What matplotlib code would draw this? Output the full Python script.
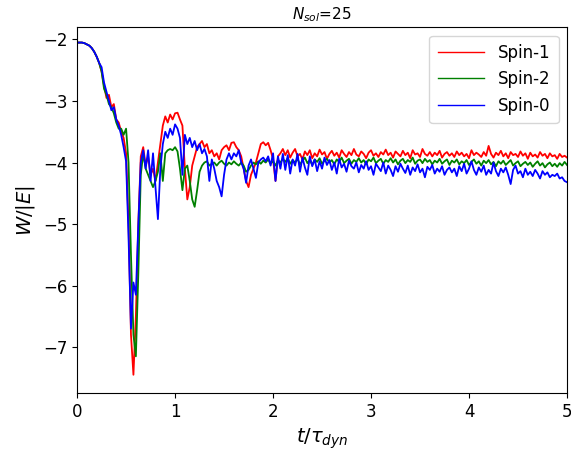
import matplotlib
matplotlib.use("Agg")
import matplotlib.pyplot as plt
import numpy as np

# time grid, step 0.025 tau_dyn (201 samples)
t = np.linspace(0.0, 5.0, 201)

# collapse phase, identical for all three runs (t = 0 .. 0.25)
early = [-2.05, -2.05, -2.05, -2.06, -2.08, -2.10, -2.14, -2.20, -2.28, -2.38, -2.52]

spin1 = early[:-1] + [
    -2.52, -2.75, -2.95, -2.90, -3.10, -3.05, -3.30, -3.35, -3.50, -3.60, -3.85,
    -5.00, -6.80, -7.45, -6.50, -5.00, -3.90, -3.75, -4.05, -3.90, -4.20,
    -4.10, -4.30, -4.00, -3.70, -3.40, -3.25, -3.35, -3.22, -3.30, -3.20,
    -3.19, -3.30, -3.40, -4.10, -4.60, -4.40, -4.05, -3.90, -3.75, -3.70,
    -3.65, -3.75, -3.70, -3.85, -3.80, -3.90, -3.85, -3.95, -3.80, -3.75,
    -3.72, -3.80, -3.68, -3.67, -3.75, -3.80, -3.90, -4.10, -4.30, -4.40,
    -4.20, -4.10, -4.00, -3.85, -3.70, -3.67, -3.72, -3.68, -3.80, -3.95,
    -4.30, -3.90, -3.85, -3.78,
    -3.88, -3.80, -3.92, -3.84, -3.78, -3.90, -3.86, -3.95, -3.82, -3.88,
    -3.80, -3.93, -3.85, -3.90, -3.79, -3.87, -3.83, -3.94, -3.86, -3.81,
    -3.89, -3.84, -3.92, -3.80, -3.86, -3.91, -3.83, -3.88, -3.78, -3.87,
    -3.90, -3.82, -3.86, -3.93, -3.84, -3.80, -3.89, -3.85, -3.91, -3.83,
    -3.87, -3.79, -3.88, -3.84, -3.92, -3.82, -3.86, -3.90, -3.81, -3.88,
    -3.84, -3.93, -3.80, -3.87, -3.85, -3.91, -3.78, -3.86, -3.89, -3.83,
    -3.90, -3.84, -3.88, -3.81, -3.92, -3.86, -3.83, -3.89, -3.85, -3.91,
    -3.82, -3.88, -3.84, -3.90, -3.86, -3.93, -3.80, -3.88, -3.84, -3.87,
    -3.91, -3.83, -3.89, -3.73, -3.86, -3.92, -3.84, -3.88, -3.81, -3.90,
    -3.85, -3.93, -3.83, -3.88, -3.86, -3.91, -3.82, -3.89, -3.85, -3.94,
    -3.84, -3.90, -3.87, -3.92, -3.83, -3.89, -3.86, -3.93, -3.85, -3.90,
    -3.88, -3.94, -3.86, -3.91, -3.89, -3.92,
]

spin2 = early[:-1] + [
    -2.52, -2.80, -2.90, -3.05, -3.10, -3.20, -3.35, -3.45, -3.45, -3.55, -3.45,
    -4.00, -5.50, -6.80, -7.15, -5.80, -4.20, -3.85, -4.10, -4.20, -4.30,
    -4.40, -4.30, -4.15, -3.85, -4.30, -3.85, -3.80, -3.78, -3.80, -3.75,
    -3.82, -4.10, -4.45, -4.10, -4.05, -4.30, -4.60, -4.72, -4.45, -4.15,
    -4.05, -4.00, -3.98, -4.05, -4.02, -4.00, -4.05, -4.00, -3.97, -4.02,
    -4.05, -4.00, -4.03, -3.98, -4.02, -4.05, -4.00, -4.05, -4.15, -4.12,
    -4.05, -4.00, -4.03, -3.98, -4.02, -3.97, -4.00, -3.95, -4.02, -3.98,
    -4.05, -3.96, -4.00, -3.94,
    -3.99, -3.93, -4.02, -3.96, -4.00, -3.94, -4.03, -3.97, -3.92, -4.01,
    -3.96, -4.04, -3.95, -3.99, -3.93, -4.02, -3.97, -3.94, -4.00, -3.96,
    -4.03, -3.95, -3.99, -3.92, -4.01, -3.97, -3.94, -4.02, -3.96, -3.99,
    -3.93, -4.00, -3.96, -4.03, -3.95, -3.98, -3.92, -4.01, -3.97, -3.94,
    -4.02, -3.96, -3.99, -3.93, -4.00, -3.95, -4.03, -3.97, -3.94, -4.01,
    -3.96, -3.99, -3.92, -4.02, -3.97, -3.95, -4.01, -3.94, -3.99, -3.96,
    -4.03, -3.97, -4.00, -3.94, -4.02, -3.98, -3.95, -4.04, -3.97, -4.00,
    -3.95, -4.03, -3.98, -4.01, -3.96, -4.04, -3.99, -3.95, -4.02, -3.98,
    -4.05, -3.97, -4.01, -3.96, -4.03, -3.99, -4.06, -3.98, -4.02, -3.97,
    -4.04, -4.00, -3.96, -4.05, -4.01, -3.98, -4.06, -4.02, -3.99, -4.04,
    -4.00, -4.07, -4.02, -3.98, -4.05, -4.01, -4.08, -4.03, -4.00, -4.06,
    -4.02, -4.07, -4.01, -4.05, -3.99, -4.04,
]

spin0 = early[:-1] + [
    -2.45, -2.70, -2.85, -3.00, -3.15, -3.10, -3.30, -3.40, -3.55, -3.75, -3.98,
    -5.20, -6.70, -5.95, -6.15, -5.00, -4.00, -3.80, -4.10, -3.80, -4.30,
    -3.85, -4.40, -4.92, -4.10, -3.70, -3.50, -3.60, -3.45, -3.55, -3.38,
    -3.45, -3.60, -4.20, -3.55, -3.70, -3.60, -3.75, -3.65, -3.80, -3.70,
    -3.85, -3.78, -3.90, -4.30, -3.95, -4.10, -4.30, -4.40, -4.55, -4.20,
    -3.95, -3.85, -3.95, -3.85, -3.90, -3.80, -4.00, -4.10, -4.33, -4.05,
    -3.95, -4.10, -4.25, -4.00, -3.95, -3.92, -3.98, -3.90, -4.05, -3.85,
    -4.30, -3.90, -4.10, -3.86,
    -4.12, -3.88, -4.18, -3.95, -4.05, -3.86, -4.15, -3.92, -4.08, -4.20,
    -3.90, -4.06, -3.95, -4.14, -3.98, -4.10, -3.92, -4.04, -3.96, -4.12,
    -4.00, -4.18, -3.94, -4.08, -4.02, -4.15, -3.97, -4.06, -4.10, -4.00,
    -4.16, -4.04, -4.10, -3.98, -4.12, -4.06, -4.20, -4.02, -4.08, -4.14,
    -4.00, -4.18, -4.05, -4.12, -4.22, -4.06, -4.15, -4.02, -4.10, -4.17,
    -4.05, -4.20, -4.08, -4.14, -4.03, -4.16, -4.10, -4.24, -4.07, -4.12,
    -4.04, -4.18, -4.10, -4.15, -4.06, -4.20, -4.12, -4.08, -4.16, -4.10,
    -4.22, -4.06, -4.14, -4.02, -4.18, -4.10, -3.98, -4.12, -4.20, -4.08,
    -4.15, -4.05, -4.20, -4.12, -4.18, -4.00, -4.14, -4.22, -4.10, -4.16,
    -4.08, -4.20, -4.35, -4.12, -4.05, -4.18, -4.14, -4.24, -4.10, -4.20,
    -4.15, -4.22, -4.12, -4.18, -4.26, -4.14, -4.20, -4.16, -4.24, -4.20,
    -4.22, -4.18, -4.26, -4.24, -4.30, -4.32,
]

labels = ["Spin-1", "Spin-2", "Spin-0"]
colors = ["r", "g", "b"]


def main():
    fig = plt.figure(figsize=(5.71, 4.53), dpi=100)
    ax = fig.add_axes([0.135, 0.132, 0.858, 0.808])

    for y, col, lab in zip([spin1, spin2, spin0], colors, labels):
        ax.plot(t, y, color=col, lw=1.3, label=lab)

    ax.set_xlim(0, 5)
    ax.set_ylim(-7.75, -1.8)
    ax.set_yticks([-7, -6, -5, -4, -3, -2])
    ax.tick_params(labelsize=12)
    ax.set_xlabel(r"$t/\tau_{dyn}$", fontsize=14)
    ax.set_ylabel(r"$W/|E|$", fontsize=14)
    ax.set_title(r"$N_{sol}$=25", fontsize=11)
    # legend handles are a bit longer than the default
    leg = ax.legend(fontsize=12, loc="upper right", handlelength=2.8,
                    borderpad=0.5)
    for line in leg.get_lines():
        line.set_linewidth(1.0)

    fig.savefig("out.png", dpi=100)


if __name__ == "__main__":
    main()
